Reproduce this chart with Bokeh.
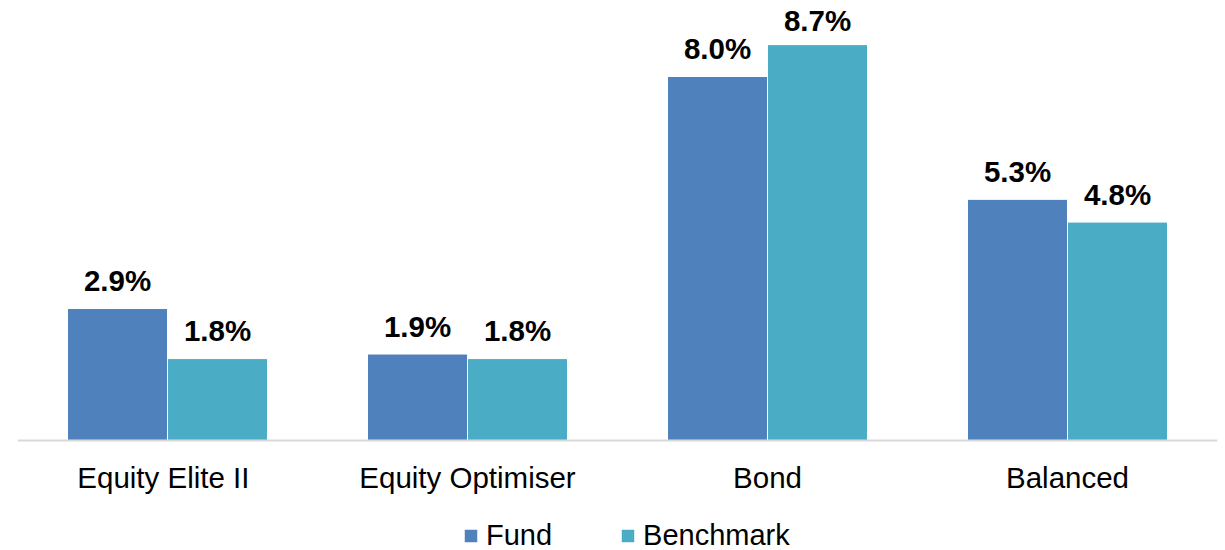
from bokeh.plotting import figure
from bokeh.models import ColumnDataSource, Legend, LegendItem, Range1d, Span
from bokeh.transform import dodge
from bokeh.core.properties import value
from bokeh.embed import file_html
from bokeh.resources import INLINE
import numpy as np

categories = ["Equity Elite  II", "Equity Optimiser", "Bond", "Balanced"]
fund = [2.9, 1.9, 8.0, 5.3]
benchmark = [1.8, 1.8, 8.7, 4.8]
series = ["Fund", "Benchmark"]
colors = ["#4F81BD", "#4BACC6"]

FONT = "Liberation Sans"
Y_MAX = 9.670
Y_MIN = -2.418
LABEL_GAP = 0.61
LABEL_CAP = 9.23

src = ColumnDataSource(dict(
    cat=categories,
    zero=[0] * len(categories),
    fund=fund,
    benchmark=benchmark,
    fund_lbl=[f"{v:.1f}%" for v in fund],
    bench_lbl=[f"{v:.1f}%" for v in benchmark],
    fund_y=list(np.minimum(np.array(fund) + LABEL_GAP, LABEL_CAP)),
    bench_y=list(np.minimum(np.array(benchmark) + LABEL_GAP, LABEL_CAP)),
))

p = figure(x_range=categories, y_range=Range1d(Y_MIN, Y_MAX), width=1225, height=550,
           output_backend="svg", toolbar_location=None,
           x_axis_location=None, y_axis_location=None,
           min_border_left=17, min_border_right=8, min_border_top=0, min_border_bottom=0)
p.outline_line_color = None
p.xgrid.grid_line_color = None
p.ygrid.grid_line_color = None

off = 1 / 6
bw = 1 / 3
r1 = p.vbar(x=dodge("cat", -off, range=p.x_range), top="fund", width=bw, source=src,
            fill_color=colors[0], line_color="white", line_width=1)
r2 = p.vbar(x=dodge("cat", off, range=p.x_range), top="benchmark", width=bw, source=src,
            fill_color=colors[1], line_color="white", line_width=1)

# baseline (category axis line)
p.add_layout(Span(location=0, dimension="width", line_color="#D9D9D9", line_width=2))

# category labels under the baseline
p.text(x="cat", y="zero", text="cat", source=src, y_offset=37,
       text_font=value(FONT), text_font_size="29.5px", text_color="black",
       text_align="center", text_baseline="middle")

# value labels
for ycol, tcol, sgn in [("fund_y", "fund_lbl", -off), ("bench_y", "bench_lbl", off)]:
    p.text(x=dodge("cat", sgn, range=p.x_range), y=ycol, text=tcol, source=src,
           text_font=value(FONT), text_font_style="bold", text_font_size="29.5px",
           text_color="black", text_align="center", text_baseline="middle")

legend = Legend(items=[LegendItem(label=series[0], renderers=[r1]),
                       LegendItem(label=series[1], renderers=[r2])],
                orientation="horizontal", location=(445, -2),
                padding=0, margin=0, spacing=67, label_standoff=7,
                glyph_width=17, glyph_height=17,
                label_text_font=FONT, label_text_font_size="29px",
                label_text_color="black",
                border_line_color=None, background_fill_alpha=0)
p.add_layout(legend, "center")

open("out.html", "w").write(file_html(p, INLINE))
